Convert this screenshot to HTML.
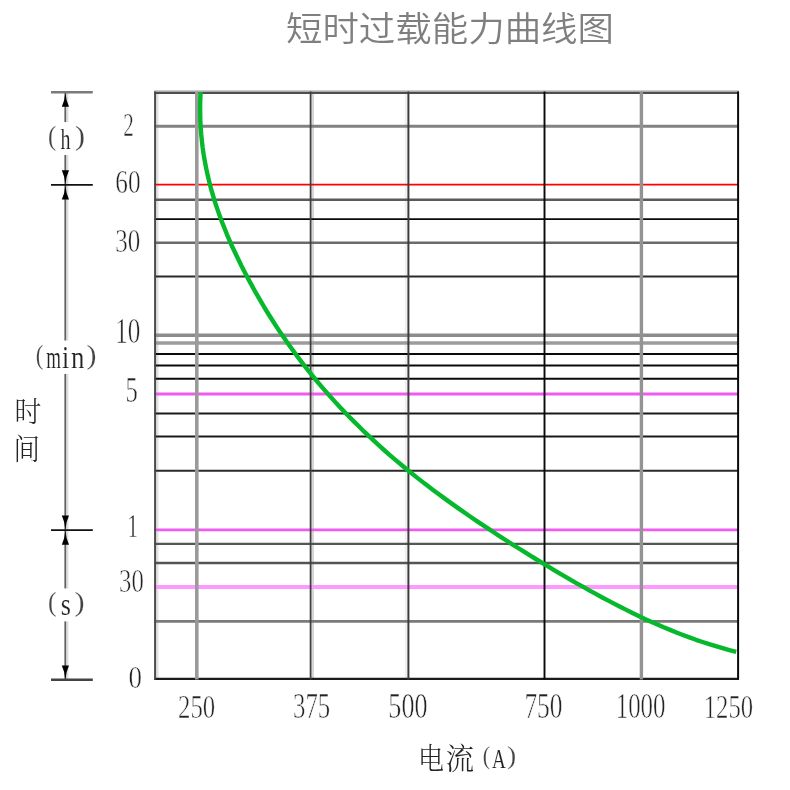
<!DOCTYPE html>
<html lang="zh-CN"><head><meta charset="utf-8"><title>短时过载能力曲线图</title>
<style>html,body{margin:0;padding:0;background:#fff;width:790px;height:790px;overflow:hidden}svg{display:block}</style>
</head><body>
<svg width="790" height="790" viewBox="0 0 790 790">
<line x1="157.4" y1="91.6" x2="157.4" y2="679.6" stroke="#e2e2e2" stroke-width="2.4"/>
<line x1="312.8" y1="91.6" x2="312.8" y2="679.6" stroke="#d6d6d6" stroke-width="2.4"/>
<line x1="405.8" y1="91.6" x2="405.8" y2="679.6" stroke="#eeeeee" stroke-width="2"/>
<line x1="154.2" y1="91.0" x2="739" y2="91.0" stroke="#cccccc" stroke-width="1.8"/>
<line x1="154.2" y1="92.9" x2="739" y2="92.9" stroke="#4e4e4e" stroke-width="2.1"/>
<line x1="154.2" y1="126.2" x2="739" y2="126.2" stroke="#828282" stroke-width="3.0"/>
<line x1="154.2" y1="184.6" x2="739" y2="184.6" stroke="#ff0000" stroke-width="1.7"/>
<line x1="154.2" y1="199.8" x2="739" y2="199.8" stroke="#5a5a5a" stroke-width="2.4"/>
<line x1="154.2" y1="219.1" x2="739" y2="219.1" stroke="#0a0a0a" stroke-width="1.9"/>
<line x1="154.2" y1="242.7" x2="739" y2="242.7" stroke="#6a6a6a" stroke-width="2.5"/>
<line x1="154.2" y1="276.6" x2="739" y2="276.6" stroke="#2a2a2a" stroke-width="2.0"/>
<line x1="154.2" y1="335.2" x2="739" y2="335.2" stroke="#8c8c8c" stroke-width="3.4"/>
<line x1="154.2" y1="343" x2="739" y2="343" stroke="#9c9c9c" stroke-width="3.6"/>
<line x1="154.2" y1="354" x2="739" y2="354" stroke="#0a0a0a" stroke-width="1.9"/>
<line x1="154.2" y1="365.5" x2="739" y2="365.5" stroke="#0a0a0a" stroke-width="1.9"/>
<line x1="154.2" y1="378.7" x2="739" y2="378.7" stroke="#0a0a0a" stroke-width="1.9"/>
<line x1="154.2" y1="394.0" x2="739" y2="394.0" stroke="#f05af0" stroke-width="2.8"/>
<line x1="154.2" y1="413.4" x2="739" y2="413.4" stroke="#1a1a1a" stroke-width="2.0"/>
<line x1="154.2" y1="436.4" x2="739" y2="436.4" stroke="#1a1a1a" stroke-width="2.0"/>
<line x1="154.2" y1="470.7" x2="739" y2="470.7" stroke="#2a2a2a" stroke-width="2.0"/>
<line x1="154.2" y1="529.9" x2="739" y2="529.9" stroke="#f05af0" stroke-width="2.8"/>
<line x1="154.2" y1="543.9" x2="739" y2="543.9" stroke="#555555" stroke-width="2.3"/>
<line x1="154.2" y1="563.0" x2="739" y2="563.0" stroke="#555555" stroke-width="2.3"/>
<line x1="154.2" y1="587" x2="739" y2="587" stroke="#ff99ff" stroke-width="3.8"/>
<line x1="154.2" y1="621.4" x2="739" y2="621.4" stroke="#7a7a7a" stroke-width="2.8"/>
<line x1="154.2" y1="678.8" x2="739" y2="678.8" stroke="#1a1a1a" stroke-width="2.2"/>
<line x1="155.1" y1="91.6" x2="155.1" y2="679.6" stroke="#4a4a4a" stroke-width="2"/>
<line x1="196.8" y1="91.6" x2="196.8" y2="679.6" stroke="#9a9a9a" stroke-width="3.6"/>
<line x1="310.6" y1="91.6" x2="310.6" y2="679.6" stroke="#404040" stroke-width="1.8"/>
<line x1="408.4" y1="91.6" x2="408.4" y2="679.6" stroke="#3c3c3c" stroke-width="2"/>
<line x1="544.5" y1="91.6" x2="544.5" y2="679.6" stroke="#0a0a0a" stroke-width="1.9"/>
<line x1="641.4" y1="91.6" x2="641.4" y2="679.6" stroke="#939393" stroke-width="3.4"/>
<line x1="738.1" y1="91.6" x2="738.1" y2="679.6" stroke="#0a0a0a" stroke-width="2"/>
<path d="M200.6,92.0 L200.3,99.1 L200.1,106.2 L200.2,113.3 L200.3,120.3 L200.7,127.3 L201.2,134.2 L201.9,141.1 L202.7,148.0 L203.7,154.9 L204.9,161.7 L206.2,168.4 L207.7,175.2 L209.3,181.9 L211.0,188.6 L212.9,195.2 L214.9,201.8 L217.1,208.4 L219.4,214.9 L221.8,221.4 L224.3,227.8 L226.9,234.3 L229.6,240.6 L232.4,247.0 L235.4,253.3 L238.4,259.5 L241.4,265.7 L244.6,271.9 L247.8,278.1 L251.1,284.1 L254.4,290.2 L257.8,296.2 L261.3,302.2 L264.8,308.1 L268.4,314.0 L272.1,319.8 L275.8,325.6 L279.6,331.4 L283.5,337.1 L287.4,342.7 L291.4,348.3 L295.5,353.9 L299.6,359.4 L303.8,364.9 L308.1,370.3 L312.4,375.7 L316.8,381.0 L321.3,386.3 L325.9,391.6 L330.5,396.7 L335.1,401.9 L339.8,407.0 L344.6,412.0 L349.4,417.0 L354.3,421.9 L359.3,426.8 L364.2,431.7 L369.3,436.4 L374.3,441.2 L379.5,445.9 L384.6,450.5 L389.8,455.1 L395.1,459.6 L400.4,464.0 L405.7,468.5 L411.0,472.8 L416.4,477.1 L421.8,481.4 L427.3,485.6 L432.7,489.7 L438.2,493.8 L443.8,497.9 L449.3,501.9 L454.9,505.9 L460.6,509.9 L466.2,513.8 L471.9,517.7 L477.6,521.6 L483.3,525.4 L489.0,529.2 L494.8,533.0 L500.6,536.8 L506.4,540.5 L512.2,544.3 L518.1,548.0 L524.0,551.7 L529.9,555.4 L535.8,559.0 L541.7,562.6 L547.7,566.2 L553.6,569.8 L559.6,573.3 L565.6,576.8 L571.6,580.3 L577.6,583.8 L583.7,587.2 L589.7,590.6 L595.8,593.9 L601.8,597.2 L607.9,600.4 L614.0,603.6 L620.1,606.8 L626.3,609.9 L632.5,613.0 L638.7,615.9 L644.9,618.9 L651.1,621.7 L657.4,624.5 L663.7,627.3 L670.1,629.9 L676.5,632.5 L682.9,635.0 L689.4,637.4 L696.0,639.8 L702.5,642.0 L709.2,644.2 L715.8,646.2 L722.6,648.2 L729.4,650.1 L736.2,651.8" fill="none" stroke="#06b82c" stroke-width="4.4" stroke-linecap="butt" stroke-linejoin="round"/>
<line x1="65.4" y1="92.6" x2="65.4" y2="122" stroke="#606060" stroke-width="2"/>
<line x1="67.4" y1="92.6" x2="67.4" y2="122" stroke="#dddddd" stroke-width="2"/>
<line x1="65.4" y1="155" x2="65.4" y2="340.5" stroke="#606060" stroke-width="2"/>
<line x1="67.4" y1="155" x2="67.4" y2="340.5" stroke="#dddddd" stroke-width="2"/>
<line x1="65.4" y1="374" x2="65.4" y2="588.4" stroke="#606060" stroke-width="2"/>
<line x1="67.4" y1="374" x2="67.4" y2="588.4" stroke="#dddddd" stroke-width="2"/>
<line x1="65.4" y1="621.4" x2="65.4" y2="679.8" stroke="#606060" stroke-width="2"/>
<line x1="67.4" y1="621.4" x2="67.4" y2="679.8" stroke="#dddddd" stroke-width="2"/>
<line x1="51" y1="92.2" x2="92.8" y2="92.2" stroke="#7a7a7a" stroke-width="2.6"/>
<line x1="51" y1="184.8" x2="92.8" y2="184.8" stroke="#111" stroke-width="1.7"/>
<line x1="51" y1="530.2" x2="92.8" y2="530.2" stroke="#111" stroke-width="1.7"/>
<line x1="51" y1="679.8" x2="92.8" y2="679.8" stroke="#444" stroke-width="2.4"/>
<path d="M65.4,92.8 Q66.0,100.5 69.0,106.8 L61.800000000000004,106.8 Q64.80000000000001,100.5 65.4,92.8 Z" fill="#000"/>
<path d="M65.4,184.2 Q66.0,176.5 69.0,170.2 L61.800000000000004,170.2 Q64.80000000000001,176.5 65.4,184.2 Z" fill="#000"/>
<path d="M65.4,185.4 Q66.0,193.1 69.0,199.4 L61.800000000000004,199.4 Q64.80000000000001,193.1 65.4,185.4 Z" fill="#000"/>
<path d="M65.4,529.6 Q66.0,521.9 69.0,515.6 L61.800000000000004,515.6 Q64.80000000000001,521.9 65.4,529.6 Z" fill="#000"/>
<path d="M65.4,530.8 Q66.0,538.5 69.0,544.8 L61.800000000000004,544.8 Q64.80000000000001,538.5 65.4,530.8 Z" fill="#000"/>
<path d="M65.4,679.4 Q66.0,671.6999999999999 69.0,665.4 L61.800000000000004,665.4 Q64.80000000000001,671.6999999999999 65.4,679.4 Z" fill="#000"/>
<text transform="translate(285.99,40.63) scale(1.0125,0.9559)" font-family="'Noto Sans CJK SC', sans-serif" font-weight="350" font-size="36" fill="#7f7f7f">短时过载能力曲线图</text>
<text transform="translate(123.20,135.70) scale(0.7000,1.1158)" font-family="'Liberation Serif', 'Noto Serif CJK SC', serif" font-size="30" fill="#222" stroke="#fff" stroke-width="0.5">2</text>
<text transform="translate(115.26,192.90) scale(0.8429,1.1158)" font-family="'Liberation Serif', 'Noto Serif CJK SC', serif" font-size="30" fill="#222" stroke="#fff" stroke-width="0.5">60</text>
<text transform="translate(115.26,251.60) scale(0.8357,1.1316)" font-family="'Liberation Serif', 'Noto Serif CJK SC', serif" font-size="30" fill="#222" stroke="#fff" stroke-width="0.5">30</text>
<text transform="translate(115.18,343.00) scale(0.8385,1.1632)" font-family="'Liberation Serif', 'Noto Serif CJK SC', serif" font-size="30" fill="#222" stroke="#fff" stroke-width="0.5">10</text>
<text transform="translate(125.57,402.30) scale(0.8167,1.1684)" font-family="'Liberation Serif', 'Noto Serif CJK SC', serif" font-size="30" fill="#222" stroke="#fff" stroke-width="0.5">5</text>
<text transform="translate(127.12,537.10) scale(0.7600,1.1000)" font-family="'Liberation Serif', 'Noto Serif CJK SC', serif" font-size="30" fill="#222" stroke="#fff" stroke-width="0.5">1</text>
<text transform="translate(119.08,592.40) scale(0.8250,1.1526)" font-family="'Liberation Serif', 'Noto Serif CJK SC', serif" font-size="30" fill="#222" stroke="#fff" stroke-width="0.5">30</text>
<text transform="translate(128.50,688.10) scale(0.9000,1.0842)" font-family="'Liberation Serif', 'Noto Serif CJK SC', serif" font-size="30" fill="#222" stroke="#fff" stroke-width="0.5">0</text>
<text transform="translate(178.07,717.90) scale(0.8256,1.1474)" font-family="'Liberation Serif', 'Noto Serif CJK SC', serif" font-size="30" fill="#222" stroke="#fff" stroke-width="0.5">250</text>
<text transform="translate(293.07,718.40) scale(0.8256,1.1737)" font-family="'Liberation Serif', 'Noto Serif CJK SC', serif" font-size="30" fill="#222" stroke="#fff" stroke-width="0.5">375</text>
<text transform="translate(388.36,718.40) scale(0.8690,1.1842)" font-family="'Liberation Serif', 'Noto Serif CJK SC', serif" font-size="30" fill="#222" stroke="#fff" stroke-width="0.5">500</text>
<text transform="translate(524.41,718.40) scale(0.8452,1.1737)" font-family="'Liberation Serif', 'Noto Serif CJK SC', serif" font-size="30" fill="#222" stroke="#fff" stroke-width="0.5">750</text>
<text transform="translate(615.71,718.40) scale(0.8304,1.1737)" font-family="'Liberation Serif', 'Noto Serif CJK SC', serif" font-size="30" fill="#222" stroke="#fff" stroke-width="0.5">1000</text>
<text transform="translate(703.73,717.60) scale(0.8232,1.1316)" font-family="'Liberation Serif', 'Noto Serif CJK SC', serif" font-size="30" fill="#222" stroke="#fff" stroke-width="0.5">1250</text>
<text transform="translate(418.00,768.75) scale(1.0000,1.1250)" font-family="'Noto Serif CJK SC', serif" font-weight="300" font-size="26" fill="#222">电</text>
<text transform="translate(445.83,768.75) scale(1.0870,1.1250)" font-family="'Noto Serif CJK SC', serif" font-weight="300" font-size="26" fill="#222">流</text>
<text transform="translate(482.71,763.73) scale(0.7875,0.9120)" font-family="'Liberation Serif', 'Noto Serif CJK SC', serif" font-size="28" fill="#444444" stroke="#fff" stroke-width="0.15">(</text>
<text transform="translate(492.00,767.70) scale(0.6850,0.9722)" font-family="'Liberation Serif', 'Noto Serif CJK SC', serif" font-size="28" fill="#222" stroke="#fff" stroke-width="0.15">A</text>
<text transform="translate(507.01,763.73) scale(0.9857,0.9120)" font-family="'Liberation Serif', 'Noto Serif CJK SC', serif" font-size="28" fill="#444444" stroke="#fff" stroke-width="0.15">)</text>
<text transform="translate(14.53,421.71) scale(1.0348,1.0958)" font-family="'Noto Serif CJK SC', serif" font-weight="300" font-size="26" fill="#222">时</text>
<text transform="translate(13.56,460.17) scale(1.0143,1.1167)" font-family="'Noto Serif CJK SC', serif" font-weight="300" font-size="26" fill="#222">间</text>
<text transform="translate(48.12,144.74) scale(0.8750,0.9600)" font-family="'Liberation Serif', 'Noto Serif CJK SC', serif" font-size="28" fill="#444444" stroke="#fff" stroke-width="0.15">(</text>
<text transform="translate(60.50,148.50) scale(0.7143,1.0789)" font-family="'Liberation Serif', 'Noto Serif CJK SC', serif" font-size="28" fill="#222" stroke="#fff" stroke-width="0.15">h</text>
<text transform="translate(74.93,144.74) scale(1.0714,0.9600)" font-family="'Liberation Serif', 'Noto Serif CJK SC', serif" font-size="28" fill="#444444" stroke="#fff" stroke-width="0.15">)</text>
<text transform="translate(35.69,363.74) scale(0.8125,0.9600)" font-family="'Liberation Serif', 'Noto Serif CJK SC', serif" font-size="28" fill="#444444" stroke="#fff" stroke-width="0.15">(</text>
<text transform="translate(46.33,368.00) scale(0.6750,1.1154)" font-family="'Liberation Serif', 'Noto Serif CJK SC', serif" font-size="28" fill="#222" stroke="#fff" stroke-width="0.15">m</text>
<text transform="translate(62.08,368.00) scale(0.9167,1.1389)" font-family="'Liberation Serif', 'Noto Serif CJK SC', serif" font-size="28" fill="#222" stroke="#fff" stroke-width="0.15">i</text>
<text transform="translate(71.04,368.00) scale(0.9583,1.1154)" font-family="'Liberation Serif', 'Noto Serif CJK SC', serif" font-size="28" fill="#222" stroke="#fff" stroke-width="0.15">n</text>
<text transform="translate(86.43,363.74) scale(1.0714,0.9600)" font-family="'Liberation Serif', 'Noto Serif CJK SC', serif" font-size="28" fill="#444444" stroke="#fff" stroke-width="0.15">)</text>
<text transform="translate(48.09,611.37) scale(0.9125,0.9720)" font-family="'Liberation Serif', 'Noto Serif CJK SC', serif" font-size="28" fill="#444444" stroke="#fff" stroke-width="0.15">(</text>
<text transform="translate(60.67,615.30) scale(0.9333,1.1385)" font-family="'Liberation Serif', 'Noto Serif CJK SC', serif" font-size="28" fill="#222" stroke="#fff" stroke-width="0.15">s</text>
<text transform="translate(74.61,611.37) scale(1.0857,0.9720)" font-family="'Liberation Serif', 'Noto Serif CJK SC', serif" font-size="28" fill="#444444" stroke="#fff" stroke-width="0.15">)</text>
</svg>
</body></html>
